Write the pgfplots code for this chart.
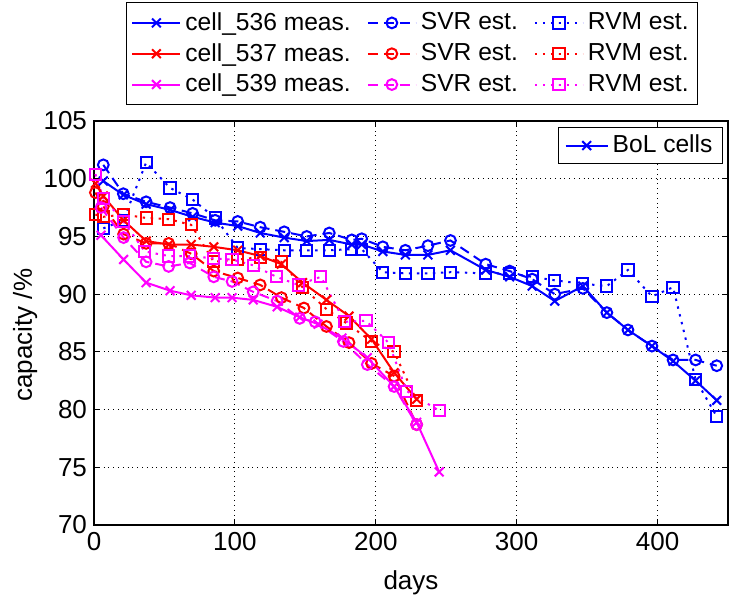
\documentclass[border=0pt]{standalone}
\usepackage{fontspec}
\setmainfont{Liberation Sans}
\usepackage{pgfplots}
\pgfplotsset{compat=1.18}
\definecolor{cB}{rgb}{0,0,1}
\definecolor{cR}{rgb}{1,0,0}
\definecolor{cM}{rgb}{1,0,1}
\pgfplotsset{
 meas/.style={solid, line width=1pt, mark=x, mark size=3.1pt},
 svr/.style={dash pattern=on 5pt off 3pt, line width=1pt, mark=o, mark size=2.7pt, mark options={solid}},
 rvm/.style={dash pattern=on 1.2pt off 2.8pt, line width=1pt, mark=square, mark size=2.8pt, mark options={solid}},
}
\begin{document}
\begin{tikzpicture}
\useasboundingbox (-47pt,-38pt) rectangle (318.5pt,262.5pt);
\begin{axis}[
 at={(0pt,0pt)}, anchor=south west,
 scale only axis, width=317pt, height=202pt,
 xmin=0, xmax=450, ymin=70, ymax=105,
 xtick={0,100,200,300,400}, ytick={70,75,80,85,90,95,100,105},
 tick align=inside, major tick length=3pt,
 xtick pos=both, ytick pos=both,
 grid=major,
 major grid style={black, dotted, line width=0.5pt},
 axis line style={black, line width=0.7pt},
 every tick/.style={black, line width=0.6pt},
 tick label style={font=\fontsize{13}{15}\selectfont},
 /pgf/number format/assume math mode=true,
 xlabel={days}, ylabel={capacity /\%},
 label style={font=\fontsize{13}{15}\selectfont},
 xlabel style={at={(axis description cs:0.5,0)}, anchor=base, yshift=-32pt},
 ylabel style={at={(axis description cs:-0.0978,0.47)}, anchor=base},
 legend columns=3,
 legend cell align=left,
 legend image code/.code={\draw[mark repeat=2,mark phase=2] plot coordinates {(0pt,0pt) (12pt,0pt) (24pt,0pt)};},
 legend style={at={(axis description cs:0.5016,1.2946)}, anchor=north,
   font=\fontsize{12.3}{14}\selectfont, draw=black, line width=0.5pt,
   inner xsep=2.5pt, inner ysep=3pt, row sep=1pt,
   /tikz/every even column/.append style={column sep=6pt}},
]
% cell 536
\addplot[cB, meas] coordinates {
(6.6,99.8) (20.8,98.6) (37,97.8) (54,97.3) (70,96.7) (86,96.2) (102,95.9) (118,95.3) (135,94.9) (151,94.6) (167,94.7) (183,94.3) (190,94.3) (205,93.7) (221,93.4) (237,93.4) (253,93.8) (278,92.1) (295,91.5) (311,90.7) (327,89.4) (347,90.7) (364,88.4) (379,86.9) (396,85.5) (411,84.2) (427,82.5) (442,80.8)};
\addlegendentry{cell\_536 meas.}
\addplot[cB, svr] coordinates {
(6.6,101.2) (20.8,98.7) (37,98.0) (54,97.5) (70,97.0) (86,96.4) (102,96.3) (118,95.8) (135,95.4) (151,95.0) (167,95.3) (183,94.7) (190,94.8) (205,94.1) (221,93.8) (237,94.2) (253,94.65) (278,92.6) (295,92.0) (311,91.3) (327,90.0) (347,90.5) (364,88.4) (379,86.9) (396,85.5) (411,84.3) (427,84.3) (442,83.8)};
\addlegendentry{SVR est.}
\addplot[cB, rvm] coordinates {
(6.6,95.7) (20.8,96.4) (37,101.4) (54,99.2) (70,98.2) (86,96.6) (102,94.0) (118,93.9) (135,93.8) (151,93.8) (167,93.8) (183,93.9) (190,93.9) (205,91.9) (221,91.8) (237,91.8) (253,91.9) (278,91.8) (295,91.8) (311,91.5) (327,91.2) (347,90.9) (364,90.7) (379,92.1) (396,89.8) (411,90.6) (427,82.6) (442,79.4)};
\addlegendentry{RVM est.}
% cell 537
\addplot[cR, meas] coordinates {
(1,99.6) (6.6,98.5) (21,96.4) (37,94.6) (53,94.3) (69,94.3) (85,94.1) (102,93.8) (118,93.3) (133,92.6) (148,91.0) (165,89.5) (181,88.1) (197,86.1) (213,83.2) (229,80.9)};
\addlegendentry{cell\_537 meas.}
\addplot[cR, svr] coordinates {
(1,98.8) (6.6,97.6) (21,95.2) (37,94.4) (53,94.4) (69,93.5) (85,92.0) (102,91.4) (118,90.8) (133,89.7) (149,88.8) (165,87.2) (181,85.8) (197,84.0) (213,82.9) (229,78.7)};
\addlegendentry{SVR est.}
\addplot[cR, rvm] coordinates {
(1,96.9) (6.6,96.7) (21,96.9) (37,96.6) (53,96.5) (69,96.0) (85,92.8) (102,93.0) (118,93.2) (133,92.8) (148,90.6) (165,88.7) (179,87.5) (197,85.9) (213,85.0) (229,80.8)};
\addlegendentry{RVM est.}
% cell 539
\addplot[cM, meas] coordinates {
(5,95.1) (21,93.0) (37,91.0) (54,90.3) (69,89.9) (86,89.7) (98,89.7) (113,89.5) (130,88.9) (146,88.0) (159,87.4) (176,86.2) (194,84.5) (213,82.0) (229,78.9) (245,74.6)};
\addlegendentry{cell\_539 meas.}
\addplot[cM, svr] coordinates {
(5,97.5) (21,94.9) (37,92.8) (53,92.4) (68,92.7) (85,91.5) (98,91.1) (113,90.2) (130,89.4) (146,87.9) (157,87.6) (177,85.9) (194,83.9) (213,82.0) (229,78.7)};
\addlegendentry{SVR est.}
\addplot[cM, rvm] coordinates {
(1,100.4) (6.6,98.3) (21,96.3) (36,93.7) (53,93.3) (68,93.3) (85,93.1) (98,93.0) (113,92.5) (129.5,91.5) (145,90.8) (161,91.5) (178,87.6) (193,87.7) (209,85.8) (222,81.6) (245,79.9)};
\addlegendentry{RVM est.}
\end{axis}
\begin{axis}[
 at={(0pt,0pt)}, anchor=south west,
 scale only axis, width=317pt, height=202pt,
 xmin=0, xmax=1, ymin=0, ymax=1, hide axis,
 legend image code/.code={\draw[mark repeat=2,mark phase=2] plot coordinates {(0pt,0pt) (10.5pt,0pt) (21pt,0pt)};},
 legend style={at={(axis description cs:0.9921,0.986)}, anchor=north east,
   font=\fontsize{12.3}{14}\selectfont, draw=black, line width=0.5pt,
   inner xsep=3pt, inner ysep=2pt},
]
\addlegendimage{cB, meas}
\addlegendentry{BoL cells}
\end{axis}
\end{tikzpicture}
\end{document}
